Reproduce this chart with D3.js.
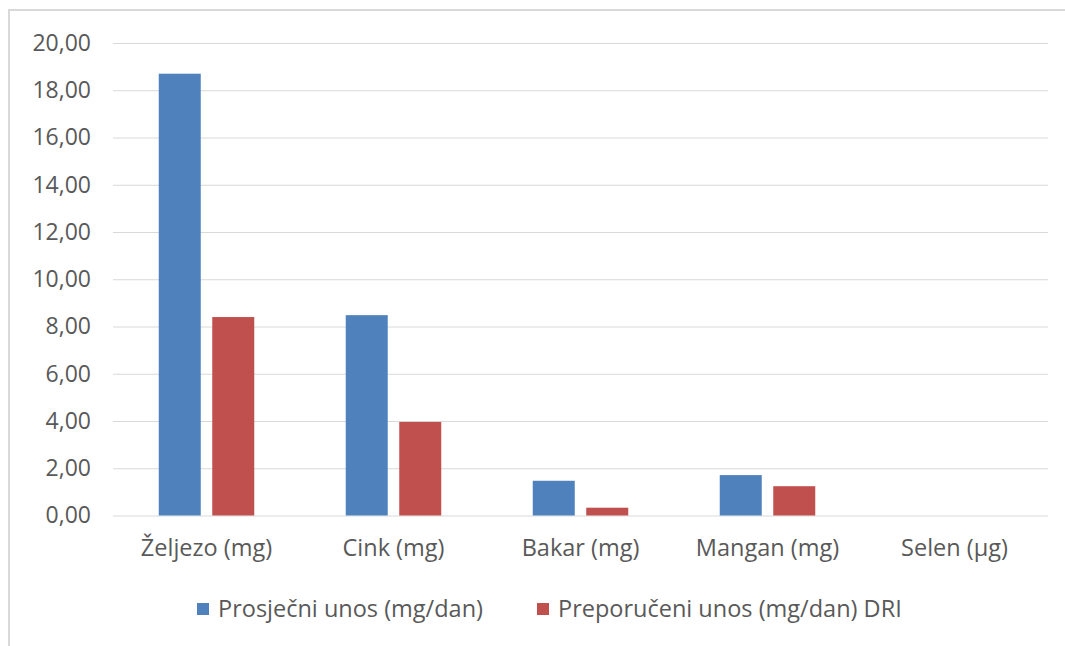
<!DOCTYPE html>
<html>
<head>
<meta charset="utf-8">
<script src="https://cdn.jsdelivr.net/npm/d3@7"></script>
<style>
  body { margin: 0; background: #fff; }
  text { font-family: "Open Sans", sans-serif; fill: #595959; }
</style>
</head>
<body>
<svg id="chart"></svg>
<script>
// data //
var categories = ["Željezo (mg)", "Cink (mg)", "Bakar (mg)", "Mangan (mg)", "Selen (µg)"];
var prosjecni = [18.7, 8.48, 1.47, 1.71, 0];
var preporuceni = [8.4, 3.96, 0.33, 1.24, 0];
var seriesNames = ["Prosječni unos (mg/dan)", "Preporučeni unos (mg/dan) DRI"];
var seriesColors = ["#4f81bd", "#c0504d"];
var yTicks = [0, 2, 4, 6, 8, 10, 12, 14, 16, 18, 20];

var screen = { width: 1065, height: 646 };
var margins = { top: 43, left: 113, right: 17, bottom: 130.5 };
var graph = {
  width: screen.width - margins.left - margins.right,
  height: screen.height - margins.top - margins.bottom
};

var svg = d3.select("#chart").attr("width", screen.width).attr("height", screen.height);

// chart border
svg.append("rect")
  .attr("x", 9).attr("y", 10)
  .attr("width", 1070).attr("height", 650)
  .attr("fill", "none")
  .attr("stroke", "#d9d9d9")
  .attr("stroke-width", 2);

var xScale = d3.scaleBand().domain(categories).range([0, graph.width]);
var yScale = d3.scaleLinear().domain([0, 20]).range([graph.height, 0]);

var g = svg.append("g")
  .attr("transform", "translate(" + margins.left + "," + margins.top + ")");

// gridlines //
var yAxis = d3.axisLeft(yScale)
  .tickValues(yTicks)
  .tickSize(-graph.width)
  .tickPadding(22)
  .tickFormat(function (d) { return d3.format(".2f")(d).replace(".", ","); });

var yG = g.append("g").call(yAxis);
yG.select(".domain").remove();
yG.selectAll(".tick line").attr("stroke", "#d9d9d9").attr("stroke-width", 1);
yG.selectAll(".tick text").style("font-size", "23px").attr("fill", "#595959");

// x labels //
var xAxis = d3.axisBottom(xScale).tickSize(0).tickPadding(24);
var xG = g.append("g").attr("transform", "translate(0," + graph.height + ")").call(xAxis);
xG.select(".domain").remove();
xG.selectAll(".tick text").style("font-size", "23.5px").attr("fill", "#595959");

// bars //
var barW = 42, gap = 11.5;
var series = [prosjecni, preporuceni];
series.forEach(function (vals, si) {
  g.append("g")
    .selectAll("rect")
    .data(vals)
    .enter()
    .append("rect")
    .attr("x", function (d, i) {
      var c = xScale(categories[i]) + xScale.bandwidth() / 2;
      return si === 0 ? c - gap / 2 - barW : c + gap / 2;
    })
    .attr("y", function (d) { return yScale(d); })
    .attr("width", barW)
    .attr("height", function (d) { return graph.height - yScale(d); })
    .attr("fill", seriesColors[si]);
});

// legend //
var legendX = [197, 537];
var legend = svg.append("g");
seriesNames.forEach(function (name, i) {
  legend.append("rect")
    .attr("x", legendX[i]).attr("y", 603)
    .attr("width", 12).attr("height", 12)
    .attr("fill", seriesColors[i]);
  legend.append("text")
    .attr("x", legendX[i] + 21).attr("y", 609)
    .attr("dy", "0.35em")
    .style("font-size", "23.5px")
    .text(name);
});
</script>
</body>
</html>
